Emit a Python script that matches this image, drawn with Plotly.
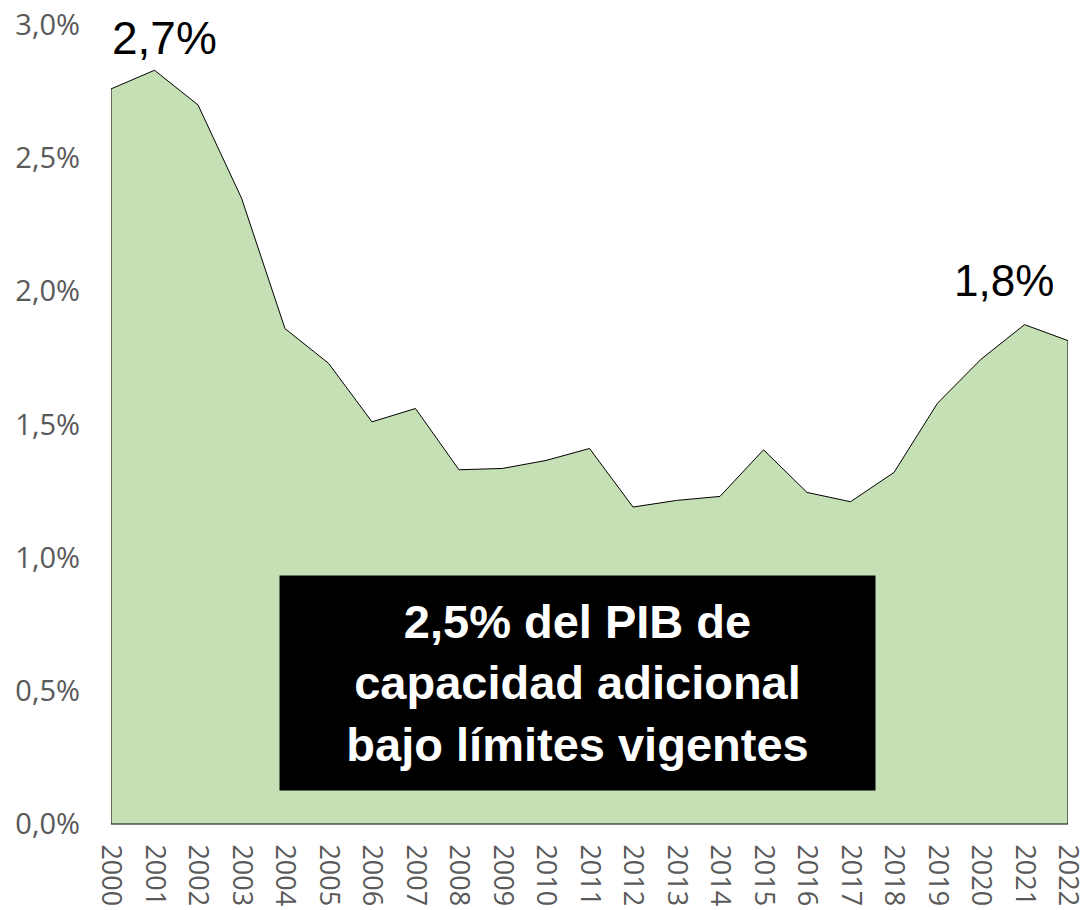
import plotly.graph_objects as go

years = list(range(2000, 2023))
values = [2.76, 2.83, 2.70, 2.35, 1.86, 1.73, 1.51, 1.56, 1.33, 1.335, 1.365, 1.41,
          1.19, 1.215, 1.23, 1.405, 1.245, 1.21, 1.32, 1.58, 1.745, 1.875, 1.815]

y_tickvals = [0, 0.5, 1.0, 1.5, 2.0, 2.5, 3.0]
y_ticktext = ["0,0%", "0,5%", "1,0%", "1,5%", "2,0%", "2,5%", "3,0%"]

label_first = "2,7%"
label_last = "1,8%"
box_text = "2,5% del PIB de<br>capacidad adicional<br>bajo límites vigentes"

# closed polygon built from the data (area down to zero)
poly_x = years + [years[-1], years[0], years[0]]
poly_y = values + [0, 0, values[0]]

fig = go.Figure()
fig.add_trace(go.Scatter(
    x=poly_x, y=poly_y, mode="lines", fill="toself",
    fillcolor="#C5E0B4", line=dict(color="#000000", width=1),
    hoverinfo="skip", showlegend=False, cliponaxis=False))

fig.add_annotation(x=2001.22, y=2.95, xref="x", yref="y", text=label_first,
                   showarrow=False, font=dict(family="Liberation Sans, Arial", size=46, color="#000000"))
fig.add_annotation(x=2020.53, y=2.04, xref="x", yref="y", text=label_last,
                   showarrow=False, font=dict(family="Liberation Sans, Arial", size=44, color="#000000"))
fig.add_annotation(x=2010.72, y=0.53, xref="x", yref="y", text="<b>" + box_text + "</b>",
                   showarrow=False, bgcolor="#000000", width=595, height=214, borderpad=0,
                   font=dict(family="Liberation Sans, Arial", size=47, color="#FFFFFF"))

fig.update_layout(
    width=1081, height=910,
    margin=dict(l=111, r=13, t=25, b=86),
    paper_bgcolor="#FFFFFF", plot_bgcolor="#FFFFFF",
    showlegend=False,
    xaxis=dict(range=[years[0], years[-1]], tickmode="array", tickvals=years,
               ticktext=[str(y) for y in years], tickangle=90, automargin=False,
               ticklabeloverflow="allow",
               tickfont=dict(family="Open Sans", size=27, color="#595959"),
               showgrid=False, zeroline=False, showline=True, linecolor="#808080",
               linewidth=1, ticks="", ticklabelstandoff=14),
    yaxis=dict(range=[0, 3.0], tickmode="array", tickvals=y_tickvals, ticktext=y_ticktext,
               automargin=False, ticklabeloverflow="allow",
               tickfont=dict(family="Open Sans", size=29, color="#595959"),
               showgrid=False, zeroline=False, showline=False, ticks="",
               ticklabelstandoff=30),
)

fig.write_html("out.html", config={"displayModeBar": False},
               post_script="document.body.style.margin='0px';document.body.style.padding='0px';")
